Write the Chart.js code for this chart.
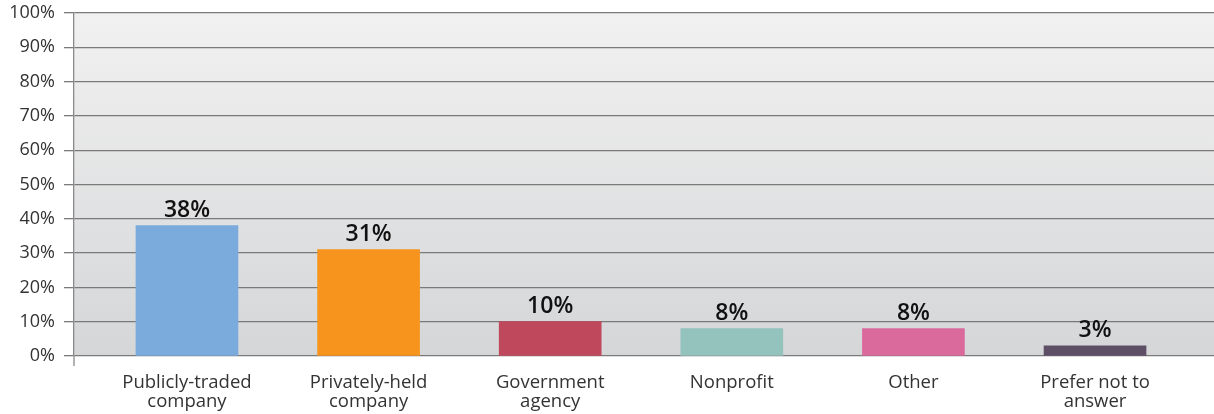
<!DOCTYPE html>
<html>
<head>
<meta charset="utf-8">
<script src="https://cdn.jsdelivr.net/npm/chart.js@4/dist/chart.umd.min.js"></script>
<style>
  html, body { margin: 0; padding: 0; background: #ffffff; }
  #wrap { width: 1214px; height: 414px; position: relative; }
</style>
</head>
<body>
<div id="wrap"><canvas id="chart" width="1214" height="414"></canvas></div>
<script>
// Employer type of respondents (% share)
const categories = [
  ['Publicly-traded', 'company'],
  ['Privately-held', 'company'],
  ['Government', 'agency'],
  ['Nonprofit'],
  ['Other'],
  ['Prefer not to', 'answer']
];
const shares = [38, 31, 10, 8, 8, 3];
const barColors = ['#7BAADC', '#F7941E', '#BF485C', '#94C2BC', '#DA6A9C', '#5E4E66'];
const yTicks = [0, 10, 20, 30, 40, 50, 60, 70, 80, 90, 100];

const FONT = '"Open Sans", Lato, sans-serif';

// Plot area background: soft vertical grey gradient
const plotBackground = {
  id: 'plotBackground',
  beforeDraw(chart) {
    const { ctx, chartArea: a } = chart;
    const g = ctx.createLinearGradient(0, a.top, 0, a.bottom);
    g.addColorStop(0, '#f1f1f1');
    g.addColorStop(1, '#d5d6d8');
    ctx.save();
    ctx.fillStyle = g;
    ctx.fillRect(a.left, a.top, a.right - a.left, a.bottom - a.top);
    ctx.restore();
  }
};

// Vertical axis line continues a little below the baseline
const axisStub = {
  id: 'axisStub',
  afterDraw(chart) {
    const { ctx, chartArea: a } = chart;
    ctx.save();
    ctx.strokeStyle = '#8a8a8a';
    ctx.lineWidth = 1.3;
    ctx.beginPath();
    ctx.moveTo(a.left, a.bottom);
    ctx.lineTo(a.left, a.bottom + 10);
    ctx.stroke();
    ctx.restore();
  }
};

// Percentage label above each bar
const valueLabels = {
  id: 'valueLabels',
  afterDatasetsDraw(chart) {
    const { ctx } = chart;
    const meta = chart.getDatasetMeta(0);
    ctx.save();
    ctx.fillStyle = '#111111';
    ctx.font = '600 23px ' + FONT;
    ctx.textAlign = 'center';
    ctx.textBaseline = 'alphabetic';
    meta.data.forEach((bar, i) => {
      ctx.fillText(shares[i] + '%', bar.x, bar.y - 9);
    });
    ctx.restore();
  }
};

new Chart(document.getElementById('chart'), {
  type: 'bar',
  data: {
    datasets: [{
      data: shares.map((v, i) => ({ x: i, y: v })),
      backgroundColor: barColors,
      borderWidth: 0,
      barThickness: 102
    }]
  },
  options: {
    responsive: false,
    animation: false,
    layout: { padding: { top: 13, right: 0, bottom: 0, left: 0 } },
    plugins: { legend: { display: false }, tooltip: { enabled: false } },
    scales: {
      x: {
        type: 'linear',
        offset: false,
        min: -0.622,
        max: 5.655,
        afterBuildTicks(scale) {
          scale.ticks = categories.map((_, i) => ({ value: i }));
        },
        afterFit(scale) {
          scale.height = 58;
          scale.paddingLeft = 0;
          scale.paddingRight = 0;
        },
        grid: { display: false },
        border: { display: false },
        ticks: {
          autoSkip: false,
          maxRotation: 0,
          padding: 9,
          color: '#333333',
          font: { family: FONT, size: 18.5, lineHeight: 1.03 },
          callback: (v) => categories[v] || ''
        }
      },
      y: {
        min: 0,
        max: 100,
        afterBuildTicks(scale) {
          scale.ticks = yTicks.map(v => ({ value: v }));
        },
        afterFit(scale) {
          scale.width = 74;
          scale.paddingTop = 0;
          scale.paddingBottom = 0;
        },
        grid: {
          color: '#7a7a7a',
          lineWidth: 1.3,
          drawTicks: true,
          tickLength: 10,
          tickColor: '#7a7a7a'
        },
        border: { display: true, color: '#8a8a8a', width: 1.3 },
        ticks: {
          padding: 9,
          color: '#333333',
          font: { family: FONT, size: 18 },
          callback: (v) => v + '%'
        }
      }
    }
  },
  plugins: [plotBackground, axisStub, valueLabels]
});
</script>
</body>
</html>
